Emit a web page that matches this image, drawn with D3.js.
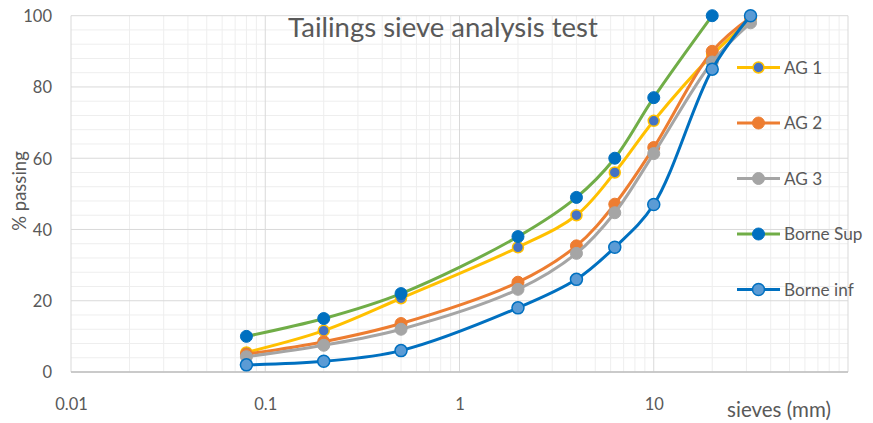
<!DOCTYPE html>
<html>
<head>
<meta charset="utf-8">
<script src="https://cdn.jsdelivr.net/npm/d3@7"></script>
<style>
  html, body { margin: 0; padding: 0; background: #fff; }
  svg text { font-family: Lato, "Open Sans", sans-serif; fill: #595959; }
</style>
</head>
<body>
<svg id="chart" width="873" height="423"></svg>
<script>
// Sieve openings (mm) and cumulative % passing for each sample
const sieves = [0.08, 0.2, 0.5, 2, 4, 6.3, 10, 20, 31.5];
const ag1 = [5.5, 11.6, 20.7, 35, 44, 56, 70.5, 89, 99];
const ag2 = [5, 8.5, 13.6, 25.2, 35.4, 47.1, 63, 90, 99.5];
const ag3 = [4.3, 7.5, 12, 23.2, 33.3, 44.7, 61.3, 87, 98];
const borneSup = [10, 15, 22, 38, 49, 60, 77, 100];
const borneInf = [2, 3, 6, 18, 26, 35, 47, 85, 100];

const seriesNames = ["AG 1", "AG 2", "AG 3", "Borne Sup", "Borne inf"];
const xTickValues = [0.01, 0.1, 1, 10];
const xTickLabels = ["0.01", "0.1", "1", "10"];
const yTickValues = [0, 20, 40, 60, 80, 100];

const styles = {
  "AG 1":      { line: "#ffc000", fill: "#4472c4", stroke: "#ffc000", r: 5.5, sw: 1.5 },
  "AG 2":      { line: "#ed7d31", fill: "#ed7d31", stroke: "#ed7d31", r: 6,   sw: 1 },
  "AG 3":      { line: "#a5a5a5", fill: "#a5a5a5", stroke: "#a5a5a5", r: 6,   sw: 1 },
  "Borne Sup": { line: "#70ad47", fill: "#0070c0", stroke: "#0070c0", r: 6,   sw: 1 },
  "Borne inf": { line: "#0070c0", fill: "#5b9bd5", stroke: "#0070c0", r: 6,   sw: 1.5 }
};
const values = [ag1, ag2, ag3, borneSup, borneInf];
const series = seriesNames.map((name, i) => ({
  name,
  points: values[i].map((v, j) => ({ x: sieves[j], y: v }))
}));

const svg = d3.select("#chart");
const plotLeft = 71, plotRight = 848, plotTop = 15.7, plotBottom = 372;

const x = d3.scaleLog().domain([0.01, 100]).range([plotLeft, plotRight]);
const y = d3.scaleLinear().domain([0, 100]).range([plotBottom, plotTop]);

// Grid: minor lines first, then the major ones
const grid = svg.append("g");
const minorX = [];
[0.01, 0.1, 1, 10].forEach(d => { for (let k = 2; k <= 9; k++) minorX.push(d * k); });
grid.selectAll("line.mx").data(minorX).join("line")
  .attr("x1", d => x(d)).attr("x2", d => x(d))
  .attr("y1", plotTop).attr("y2", plotBottom)
  .attr("stroke", "#eeeeee").attr("stroke-width", 1);
const minorY = d3.range(0, 101, 4).filter(v => v % 20 !== 0);
grid.selectAll("line.my").data(minorY).join("line")
  .attr("x1", plotLeft).attr("x2", plotRight)
  .attr("y1", d => y(d)).attr("y2", d => y(d))
  .attr("stroke", "#eeeeee").attr("stroke-width", 1);
grid.selectAll("line.MX").data([0.01, 0.1, 1, 10, 100]).join("line")
  .attr("x1", d => x(d)).attr("x2", d => x(d))
  .attr("y1", plotTop).attr("y2", plotBottom)
  .attr("stroke", "#d9d9d9").attr("stroke-width", 1);
grid.selectAll("line.MY").data(yTickValues).join("line")
  .attr("x1", plotLeft).attr("x2", plotRight)
  .attr("y1", d => y(d)).attr("y2", d => y(d))
  .attr("stroke", "#d9d9d9").attr("stroke-width", 1);

// Bottom axis line
svg.append("line")
  .attr("x1", plotLeft).attr("x2", plotRight).attr("y1", y(0)).attr("y2", y(0))
  .attr("stroke", "#bfbfbf").attr("stroke-width", 1.3);

// Tick labels
const yAxis = d3.axisLeft(y).tickValues(yTickValues).tickSize(0).tickPadding(19);
const gy = svg.append("g").attr("transform", `translate(${plotLeft},0)`).call(yAxis);
gy.select(".domain").remove();
gy.selectAll("text").style("font-size", "16.5px").attr("dy", "0.36em");

const xAxis = d3.axisBottom(x).tickValues(xTickValues)
  .tickFormat((d, i) => xTickLabels[i]).tickSize(0).tickPadding(26);
const gx = svg.append("g").attr("transform", `translate(0,${plotBottom})`).call(xAxis);
gx.select(".domain").remove();
gx.selectAll("text").style("font-size", "16.5px");

// Title and axis titles
svg.append("text").attr("x", 443).attr("y", 37).attr("text-anchor", "middle")
  .style("font-size", "27.5px").text("Tailings sieve analysis test");
svg.append("text").attr("x", 779).attr("y", 417).attr("text-anchor", "middle")
  .style("font-size", "20.5px").text("sieves (mm)");
svg.append("text")
  .attr("transform", "translate(26,191) rotate(-90)")
  .attr("text-anchor", "middle")
  .style("font-size", "18.5px").text("% passing");

// Smoothed curves with markers, one group per series
const line = d3.line().x(d => x(d.x)).y(d => y(d.y))
  .curve(d3.curveCatmullRom.alpha(0.5));
const groups = svg.append("g").selectAll("g").data(series).join("g");
groups.append("path")
  .attr("d", d => line(d.points))
  .attr("fill", "none")
  .attr("stroke", d => styles[d.name].line)
  .attr("stroke-width", 3)
  .attr("stroke-linejoin", "round").attr("stroke-linecap", "round");
groups.each(function(s) {
  const st = styles[s.name];
  d3.select(this).selectAll("circle").data(s.points).join("circle")
    .attr("cx", d => x(d.x)).attr("cy", d => y(d.y)).attr("r", st.r)
    .attr("fill", st.fill).attr("stroke", st.stroke).attr("stroke-width", st.sw);
});

// Legend
const legend = svg.append("g").selectAll("g").data(seriesNames).join("g")
  .attr("transform", (d, i) => `translate(737,${67.5 + i * 55.5})`);
legend.append("line").attr("x1", 0).attr("x2", 43).attr("y1", 0).attr("y2", 0)
  .attr("stroke", d => styles[d].line).attr("stroke-width", 3);
legend.append("circle").attr("cx", 21.5).attr("cy", 0).attr("r", d => styles[d].r)
  .attr("fill", d => styles[d].fill).attr("stroke", d => styles[d].stroke)
  .attr("stroke-width", d => styles[d].sw);
legend.append("text").attr("x", 47).attr("y", 0).attr("dy", "0.36em")
  .style("font-size", "17.2px").text(d => d);
</script>
</body>
</html>
